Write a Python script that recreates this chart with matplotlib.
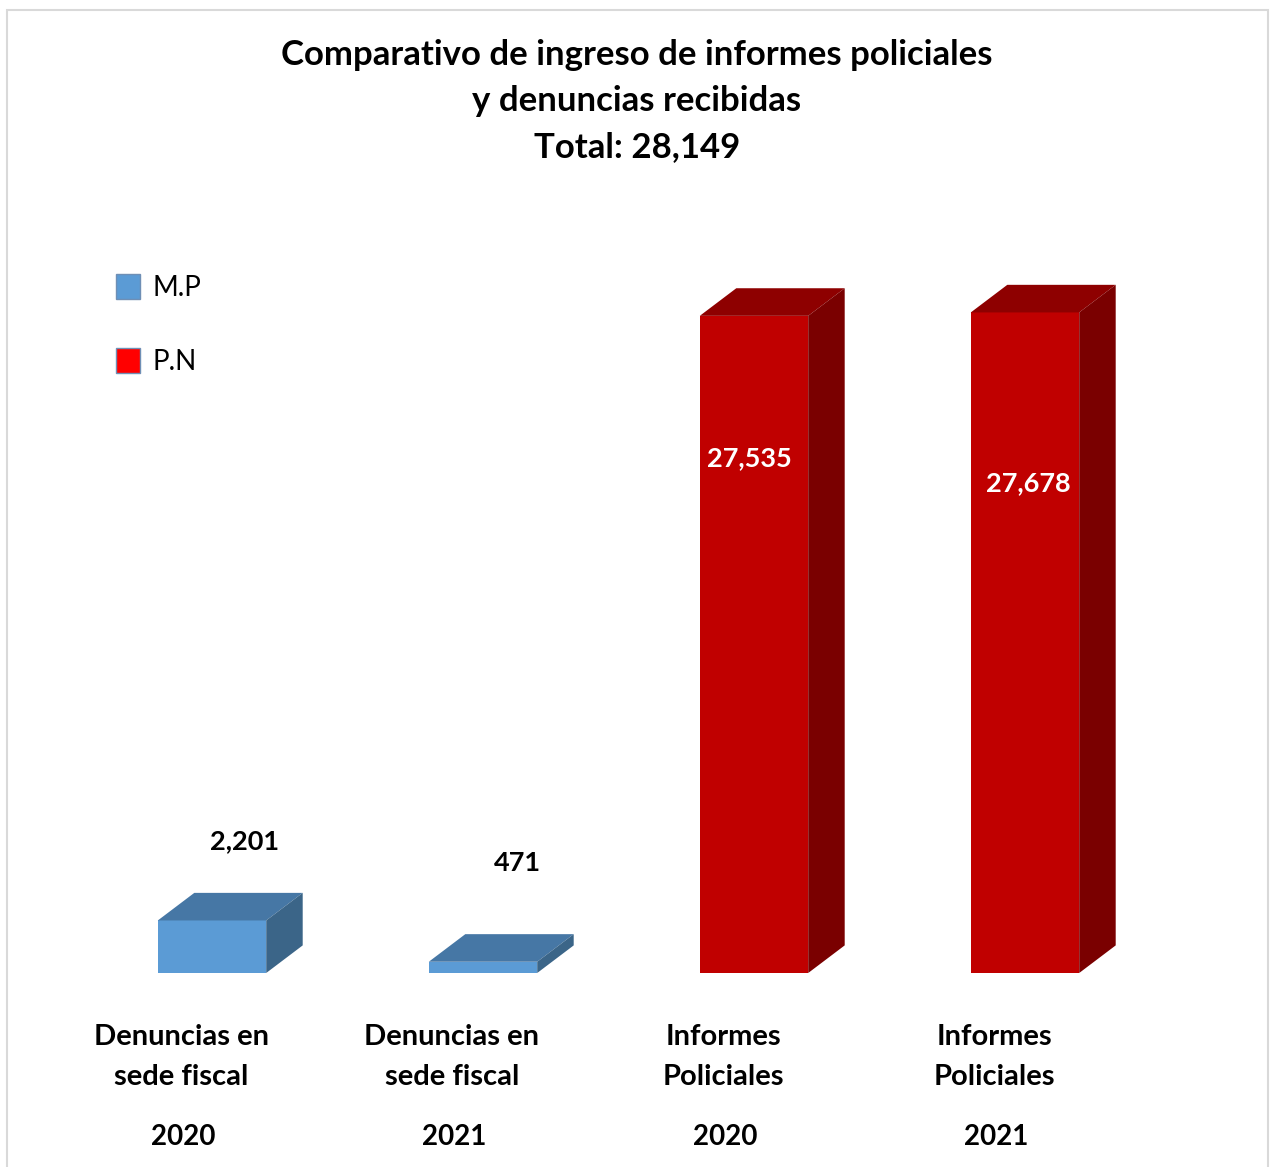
import matplotlib.pyplot as plt
from matplotlib.patches import Polygon, Patch, Rectangle

plt.rcParams['font.family'] = ['Lato', 'DejaVu Sans']

# data
labels = ["Denuncias en\nsede fiscal", "Denuncias en\nsede fiscal",
          "Informes\nPoliciales", "Informes\nPoliciales"]
years = ["2020", "2021", "2020", "2021"]
values = [2201, 471, 27535, 27678]
series = ["M.P", "M.P", "P.N", "P.N"]
title = "Comparativo de ingreso de informes policiales\ny denuncias recibidas\nTotal: 28,149"

# colours per series: front, top, side
front = {"M.P": "#5B9BD5", "P.N": "#C00000"}
top = {"M.P": "#4677A5", "P.N": "#8E0000"}
side = {"M.P": "#3B6588", "P.N": "#7A0000"}
legend_col = {"M.P": "#5B9BD5", "P.N": "#FF0000"}

W, H = 1271, 1167
fig = plt.figure(figsize=(W / 100, H / 100), dpi=100)

# light frame round the chart
fig.patches.append(Rectangle((7 / W, -0.05), 1261 / W, 1.05 - 10 / H,
                             transform=fig.transFigure, fill=False,
                             edgecolor="#D9D9D9", linewidth=1.5))

px_per_val = 41.9
ax = fig.add_axes([76.5 / W, (H - 973) / H, 1084 / W, 723 / H])
ax.set_xlim(-0.5, 3.5)
ax.set_ylim(0, 723 * px_per_val)
ax.axis("off")

width = 0.4
dx = 36.5 / 271
dy = 27.6 * px_per_val
x = list(range(len(values)))

bars = ax.bar(x, values, width=width, color=[front[s] for s in series],
              zorder=3)
for b, s in zip(bars, series):
    x0 = b.get_x()
    x1 = x0 + b.get_width()
    h = b.get_height()
    ax.add_patch(Polygon([(x0, h), (x1, h), (x1 + dx, h + dy), (x0 + dx, h + dy)],
                         closed=True, facecolor=top[s], edgecolor="none",
                         zorder=3, clip_on=False))
    ax.add_patch(Polygon([(x1, 0), (x1 + dx, dy), (x1 + dx, h + dy), (x1, h)],
                         closed=True, facecolor=side[s], edgecolor="none",
                         zorder=3, clip_on=False))

# value labels (pixel offsets from the front top of each bar)
offsets = [(33, 79), (34, 99), (-5, -142), (3, -171)]
for xi, v, s, off in zip(x, values, series, offsets):
    ax.annotate(f"{v:,}", (xi, v), xytext=off, textcoords="offset pixels",
                ha="center", va="center", fontsize=19.5, fontweight="bold",
                color="white" if s == "P.N" else "black", zorder=5)

# category labels below the bars
for xi, lab, yr in zip(x, labels, years):
    ax.annotate(lab, (xi, 0), xytext=(-31, -84), textcoords="offset pixels",
                ha="center", va="center", fontsize=21, fontweight="bold",
                linespacing=1.62, annotation_clip=False)
    ax.annotate(yr, (xi, 0), xytext=(-29, -164), textcoords="offset pixels",
                ha="center", va="center", fontsize=20, fontweight="bold",
                annotation_clip=False)

fig.text(637 / W, 1 - 101 / H, title, ha="center", va="center",
         fontsize=25, fontweight="bold", linespacing=1.53)

handles = [Patch(facecolor=legend_col[s], edgecolor="#6F8FB5", linewidth=1)
           for s in ["M.P", "P.N"]]
fig.legend(handles, ["M.P", "P.N"], loc="upper left",
           bbox_to_anchor=(116 / W, 1 - 274 / H), frameon=False,
           fontsize=20, handlelength=0.85, handleheight=1.0,
           handletextpad=0.45, labelspacing=1.7, borderpad=0,
           borderaxespad=0)

fig.savefig("out.png", dpi=100, facecolor="white")
